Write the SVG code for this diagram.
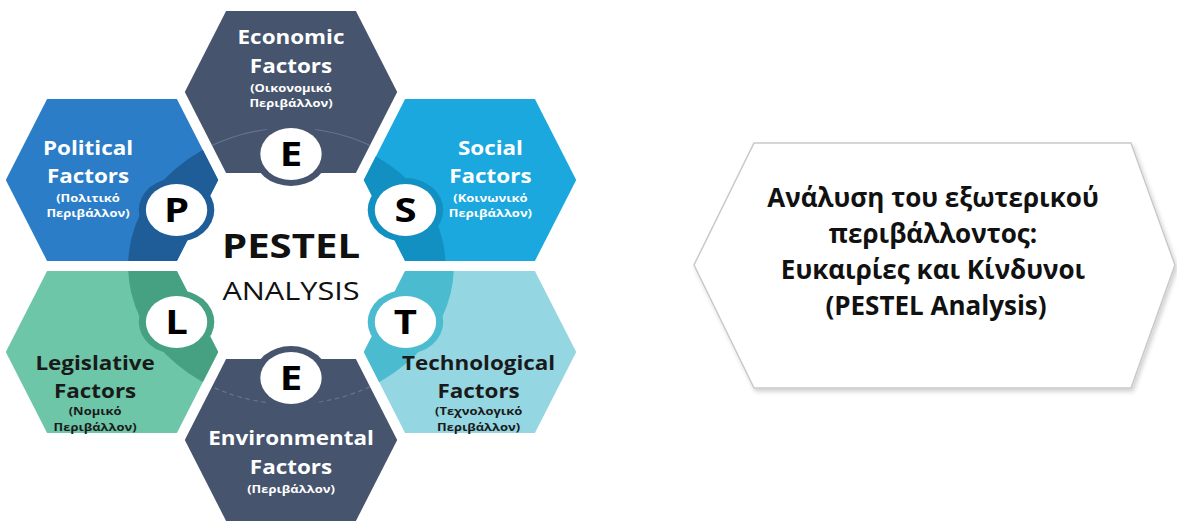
<svg xmlns="http://www.w3.org/2000/svg" width="1177" height="521" viewBox="0 0 1177 521">
<style>
.t{font-family:"Open Sans","Noto Sans","DejaVu Sans",sans-serif;font-weight:700;text-anchor:middle}
.ttl{font-size:19px}
.sm{font-size:11px}
.w{fill:#ffffff}
.d{fill:#1a1a1a}
.ltr{font-family:"Open Sans","Noto Sans",sans-serif;font-weight:700;font-size:34px;text-anchor:middle;fill:#000}
.faint{fill:none;stroke:#7282a0;stroke-width:1.2;stroke-opacity:.7}
.rt{font-family:"Open Sans","Noto Sans","DejaVu Sans",sans-serif;font-weight:700;font-size:26px;text-anchor:middle;fill:#111}
</style>
<defs>
<filter id="sh" x="-5%" y="-5%" width="110%" height="115%"><feDropShadow dx="2" dy="3" stdDeviation="2" flood-color="#000" flood-opacity="0.18"/></filter>
<clipPath id="cEc"><polygon points="-90,92 -55,11 55,11 90,92 55,173 -55,173"/></clipPath>
<clipPath id="cPo"><polygon points="-241.7,180 -206.7,99 -96.7,99 -61.7,180 -96.7,261 -206.7,261"/></clipPath>
<clipPath id="cSo"><polygon points="61.7,180 96.7,99 206.7,99 241.7,180 206.7,261 96.7,261"/></clipPath>
<clipPath id="cLe"><polygon points="-241.7,352 -206.7,271 -96.7,271 -61.7,352 -96.7,433 -206.7,433"/></clipPath>
<clipPath id="cTe"><polygon points="61.7,352 96.7,271 206.7,271 241.7,352 206.7,433 96.7,433"/></clipPath>
<clipPath id="cEn"><polygon points="-90,440 -55,359 55,359 90,440 55,521 -55,521"/></clipPath>
</defs>
<rect width="1177" height="521" fill="#ffffff"/>
<g id="connectors"></g>
<g id="pestel" transform="translate(291,0) scale(1.18,1)">
  <g id="economic">
    <polygon points="-90,92 -55,11 55,11 90,92 55,173 -55,173" fill="#46546d"/>
    <circle cx="0" cy="266" r="138" class="faint" clip-path="url(#cEc)"/>
    <circle cx="0" cy="154" r="32" fill="#46546d"/>
    <circle cx="0" cy="154" r="26" fill="#ffffff"/>
    <text class="ltr" x="0" y="166">E</text>
    <text class="t ttl w" x="0" y="44">Economic</text>
    <text class="t ttl w" x="0" y="73">Factors</text>
    <text class="t sm w" x="0" y="92">(Οικονομικό</text>
    <text class="t sm w" x="0" y="107">Περιβάλλον)</text>
  </g>
  <g id="political">
    <polygon points="-241.7,180 -206.7,99 -96.7,99 -61.7,180 -96.7,261 -206.7,261" fill="#2a7dc6"/>
    <circle cx="0" cy="266" r="138" fill="#1f5d98" clip-path="url(#cPo)"/>
    <circle cx="-97" cy="210" r="32" fill="#1f5d98"/>
    <circle cx="-97" cy="210" r="26" fill="#ffffff"/>
    <text class="ltr" x="-97" y="222">P</text>
    <text class="t ttl w" x="-172" y="155">Political</text>
    <text class="t ttl w" x="-172" y="183">Factors</text>
    <text class="t sm w" x="-172" y="202">(Πολιτικό</text>
    <text class="t sm w" x="-172" y="217">Περιβάλλον)</text>
  </g>
  <g id="social">
    <polygon points="61.7,180 96.7,99 206.7,99 241.7,180 206.7,261 96.7,261" fill="#1aa8de"/>
    <circle cx="0" cy="266" r="131" fill="#1390c2" clip-path="url(#cSo)"/>
    <circle cx="97" cy="210" r="32" fill="#1390c2"/>
    <circle cx="97" cy="210" r="26" fill="#ffffff"/>
    <text class="ltr" x="97" y="222">S</text>
    <text class="t ttl w" x="169" y="155">Social</text>
    <text class="t ttl w" x="169" y="183">Factors</text>
    <text class="t sm w" x="169" y="202">(Κοινωνικό</text>
    <text class="t sm w" x="169" y="217">Περιβάλλον)</text>
  </g>
  <g id="legislative">
    <polygon points="-241.7,352 -206.7,271 -96.7,271 -61.7,352 -96.7,433 -206.7,433" fill="#6dc6a8"/>
    <circle cx="0" cy="266" r="138" fill="#45a181" clip-path="url(#cLe)"/>
    <circle cx="-97" cy="322" r="32" fill="#45a181"/>
    <circle cx="-97" cy="322" r="26" fill="#ffffff"/>
    <text class="ltr" x="-97" y="334">L</text>
    <text class="t ttl d" x="-166" y="370">Legislative</text>
    <text class="t ttl d" x="-166" y="398">Factors</text>
    <text class="t sm d" x="-166" y="415">(Νομικό</text>
    <text class="t sm d" x="-166" y="431">Περιβάλλον)</text>
  </g>
  <g id="technological">
    <polygon points="61.7,352 96.7,271 206.7,271 241.7,352 206.7,433 96.7,433" fill="#94d6e2"/>
    <circle cx="0" cy="266" r="138" fill="#4bbbd0" clip-path="url(#cTe)"/>
    <circle cx="97" cy="322" r="32" fill="#4bbbd0"/>
    <circle cx="97" cy="322" r="26" fill="#ffffff"/>
    <text class="ltr" x="97" y="334">T</text>
    <text class="t ttl d" x="159" y="370">Technological</text>
    <text class="t ttl d" x="159" y="398">Factors</text>
    <text class="t sm d" x="159" y="415">(Τεχνολογικό</text>
    <text class="t sm d" x="159" y="431">Περιβάλλον)</text>
  </g>
  <g id="environmental">
    <polygon points="-90,440 -55,359 55,359 90,440 55,521 -55,521" fill="#46546d"/>
    <circle cx="0" cy="266" r="138" class="faint" stroke-dasharray="4 3" clip-path="url(#cEn)"/>
    <circle cx="0" cy="378" r="32" fill="#46546d"/>
    <circle cx="0" cy="378" r="26" fill="#ffffff"/>
    <text class="ltr" x="0" y="390">E</text>
    <text class="t ttl w" x="0" y="445">Environmental</text>
    <text class="t ttl w" x="0" y="474">Factors</text>
    <text class="t sm w" x="0" y="493">(Περιβάλλον)</text>
  </g>
  <g id="center">
    <text x="0" y="258" font-family="'Open Sans','Noto Sans',sans-serif" font-weight="700" font-size="34" text-anchor="middle" fill="#111">PESTEL</text>
    <text x="0" y="300" font-family="'Open Sans','Noto Sans',sans-serif" font-weight="400" font-size="26" text-anchor="middle" fill="#111">ANALYSIS</text>
  </g>
</g>
<g id="title">
  <polygon points="754,143 1131,143 1175,265 1131,388 754,388 694,265" fill="#ffffff" stroke="#c9c9c9" stroke-width="1.5" filter="url(#sh)"/>
  <text class="rt" x="933" y="207">Ανάλυση του εξωτερικού</text>
  <text class="rt" x="933" y="243">περιβάλλοντος:</text>
  <text class="rt" x="933" y="279">Ευκαιρίες και Κίνδυνοι</text>
  <text class="rt" x="936" y="315">(PESTEL Analysis)</text>
</g>
</svg>
